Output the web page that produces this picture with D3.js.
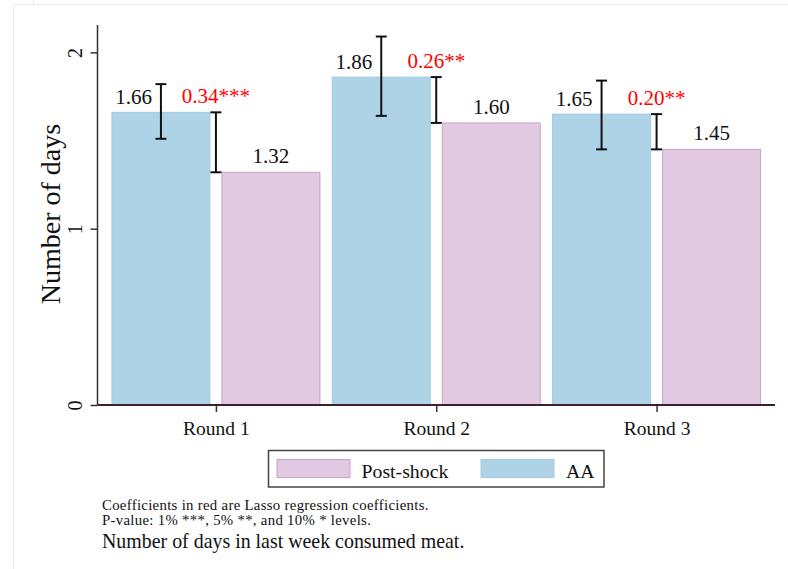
<!DOCTYPE html>
<html>
<head>
<meta charset="utf-8">
<script src="https://cdn.jsdelivr.net/npm/d3@7"></script>
<style>
  html, body { margin: 0; padding: 0; background: #fff; }
  svg { display: block; font-family: "Liberation Serif", "Times New Roman", serif; }
</style>
</head>
<body>
<svg id="chart" width="788" height="569"></svg>
<script>
// Mean number of days meat was eaten last week, by survey round
const categories = ["Round 1", "Round 2", "Round 3"];
const seriesNames = ["AA", "Post-shock"];
const aaValues = [1.66, 1.86, 1.65];
const postValues = [1.32, 1.60, 1.45];
const aaLow = [1.51, 1.64, 1.45];
const aaHigh = [1.82, 2.09, 1.84];
const coefValues = [0.34, 0.26, 0.20];
const coefStars = ["***", "**", "**"];
const yTicks = [0, 1, 2];
const notes = [
  "Coefficients in red are Lasso regression coefficients.",
  "P-value: 1% ***, 5% **, and 10% * levels."
];
const caption = "Number of days in last week consumed meat.";
const yTitle = "Number of days";

const colors = {
  "AA": { fill: "#aed3e6", stroke: "#a3cbe0" },
  "Post-shock": { fill: "#e1c9e1", stroke: "#c9a2cb" }
};

const svg = d3.select("#chart");

// faint outer frame
svg.append("path")
  .attr("d", "M13.5,569 V4.5 H788 M33.5,0 V4.5")
  .attr("fill", "none").attr("stroke", "#ebebeb").attr("stroke-width", 1);

const plot = { left: 97.5, right: 775, bottom: 405, top: 25 };

const x = d3.scalePoint().domain(categories).range([plot.left, plot.right]).padding(0.5375);
const inner = d3.scaleBand().domain(seriesNames).range([-104.5, 104.5]).paddingInner(0.1);
const y = d3.scaleLinear().domain([0, 2]).range([plot.bottom, 52.4]);

const rows = categories.map((c, i) => ({
  cat: c, aa: aaValues[i], post: postValues[i], lo: aaLow[i], hi: aaHigh[i],
  coef: coefValues[i], stars: coefStars[i]
}));

// bars
const g = svg.append("g");
rows.forEach(r => {
  [["AA", r.aa], ["Post-shock", r.post]].forEach(([s, v]) => {
    g.append("rect")
      .attr("x", x(r.cat) + inner(s) + 0.5)
      .attr("y", y(v))
      .attr("width", inner.bandwidth() - 1)
      .attr("height", y(0) - y(v))
      .attr("fill", colors[s].fill)
      .attr("stroke", colors[s].stroke)
      .attr("stroke-width", 1);
  });
});

// error bars
function errBar(cx, v1, v2) {
  const e = g.append("g").attr("stroke", "#111").attr("stroke-width", 2);
  e.append("line").attr("x1", cx).attr("x2", cx).attr("y1", y(v1)).attr("y2", y(v2));
  [v1, v2].forEach(v => e.append("line")
    .attr("x1", cx - 5.5).attr("x2", cx + 5.5).attr("y1", y(v)).attr("y2", y(v)));
}
rows.forEach(r => {
  const aaCenter = x(r.cat) + inner("AA") + inner.bandwidth() / 2;
  errBar(aaCenter, r.lo, r.hi);
  errBar(x(r.cat), r.aa, r.aa - r.coef);
});

// value labels
rows.forEach(r => {
  const aaCenter = x(r.cat) + inner("AA") + inner.bandwidth() / 2;
  const postCenter = x(r.cat) + inner("Post-shock") + inner.bandwidth() / 2;
  g.append("text").attr("x", aaCenter - 9).attr("y", y(r.aa) - 8.5)
    .attr("text-anchor", "end").attr("font-size", 21).attr("fill", "#111")
    .text(r.aa.toFixed(2));
  g.append("text").attr("x", postCenter).attr("y", y(r.post) - 9)
    .attr("text-anchor", "middle").attr("font-size", 21).attr("fill", "#111")
    .text(r.post.toFixed(2));
  g.append("text").attr("x", x(r.cat)).attr("y", y(r.aa) - 9.5)
    .attr("text-anchor", "middle").attr("font-size", 21).attr("fill", "#ff0000")
    .text(r.coef.toFixed(2) + r.stars);
});

// y axis
const yAxis = svg.append("g").attr("transform", `translate(${plot.left},0)`)
  .call(d3.axisLeft(y).tickValues(yTicks).tickSize(7).tickPadding(9).tickFormat(d3.format("d")));
yAxis.select(".domain").remove();
yAxis.selectAll(".tick line").attr("stroke", "#333").attr("stroke-width", 1.5);
yAxis.selectAll(".tick text")
  .attr("font-family", "Liberation Serif, Times New Roman, serif")
  .attr("font-size", 20).attr("fill", "#111")
  .attr("text-anchor", "middle").attr("dy", null)
  .attr("transform", "rotate(-90)")
  .attr("x", 0).attr("y", -16);
svg.append("line")
  .attr("x1", plot.left).attr("x2", plot.left)
  .attr("y1", plot.top).attr("y2", plot.bottom)
  .attr("stroke", "#333").attr("stroke-width", 1.5);

// x axis
const xAxis = svg.append("g").attr("transform", `translate(0,${plot.bottom})`)
  .call(d3.axisBottom(x).tickSize(7).tickPadding(9));
xAxis.select(".domain").remove();
xAxis.selectAll(".tick line").attr("stroke", "#333").attr("stroke-width", 1.5);
xAxis.selectAll(".tick text")
  .attr("font-family", "Liberation Serif, Times New Roman, serif")
  .attr("font-size", 19.5).attr("fill", "#111");
svg.append("line")
  .attr("x1", plot.left).attr("x2", plot.right)
  .attr("y1", plot.bottom).attr("y2", plot.bottom)
  .attr("stroke", "#3d1f30").attr("stroke-width", 1.8);

// y title
svg.append("text")
  .attr("transform", "translate(60,214) rotate(-90)")
  .attr("text-anchor", "middle").attr("font-size", 28).attr("fill", "#111")
  .text(yTitle);

// legend
const lg = svg.append("g");
lg.append("rect").attr("x", 268.5).attr("y", 450.5).attr("width", 335.5).attr("height", 36.5)
  .attr("fill", "#fff").attr("stroke", "#444").attr("stroke-width", 1.5);
const legendItems = [
  { name: "Post-shock", sx: 277, tx: 361.5 },
  { name: "AA", sx: 481, tx: 566 }
];
legendItems.forEach(it => {
  lg.append("rect").attr("x", it.sx).attr("y", 459.5).attr("width", 73).attr("height", 18)
    .attr("fill", colors[it.name].fill).attr("stroke", colors[it.name].stroke).attr("stroke-width", 1);
  lg.append("text").attr("x", it.tx).attr("y", 477.5).attr("font-size", 19.8).attr("fill", "#111")
    .text(it.name);
});

// notes
notes.forEach((n, i) => {
  svg.append("text").attr("x", 102).attr("y", 510 + i * 15)
    .attr("font-size", 14.8).attr("letter-spacing", 0.3).attr("fill", "#111").text(n);
});
svg.append("text").attr("x", 102).attr("y", 548)
  .attr("font-size", 19.9).attr("fill", "#111").text(caption);
</script>
</body>
</html>
